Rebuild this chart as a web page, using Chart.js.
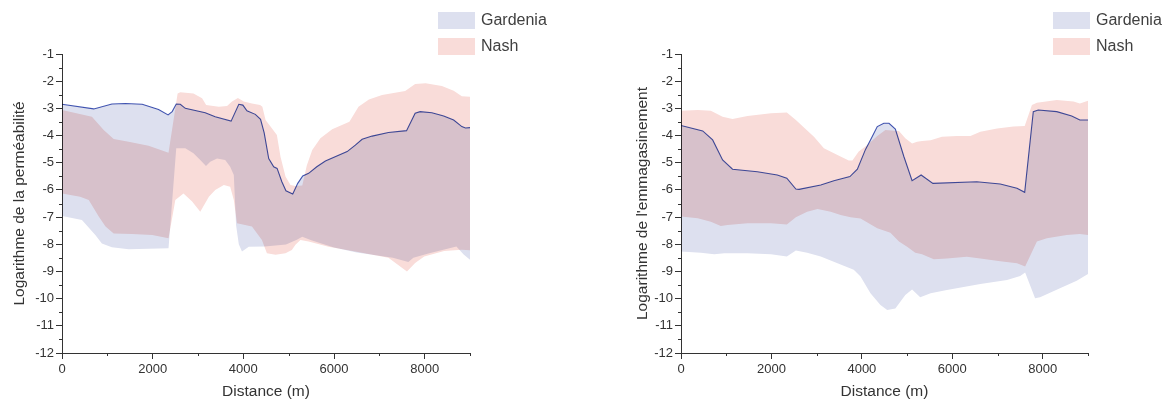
<!DOCTYPE html>
<html>
<head>
<meta charset="utf-8">
<script src="https://cdn.jsdelivr.net/npm/chart.js@4/dist/chart.umd.min.js"></script>
<style>
  body { margin: 0; background: #fff; }
  .panneau { display: inline-block; width: 585px; height: 405px; vertical-align: top; }
</style>
</head>
<body>
<div class="panneau"><canvas id="grafica_perm" width="585" height="405"></canvas></div><div class="panneau"><canvas id="grafica_emma" width="585" height="405"></canvas></div>
<script>
// --- perméabilité (gauche) ---
var permGardeniaHautX = [0, 700, 1100, 1400, 1770, 2130, 2340, 2430, 2520, 2610, 2720, 3160, 3380, 3730, 3900, 3990, 4080, 4265, 4380, 4460, 4560, 4670, 4745, 4850, 4940, 5090, 5200, 5310, 5440, 5620, 5810, 6290, 6470, 6620, 6840, 7200, 7600, 7790, 7900, 8160, 8420, 8640, 8820, 8900, 9000];
var permGardeniaHautY = [-2.85, -3.02, -2.84, -2.82, -2.85, -3.04, -3.24, -3.12, -2.84, -2.85, -3.0, -3.16, -3.31, -3.47, -2.85, -2.88, -3.09, -3.22, -3.4, -3.9, -4.85, -5.15, -5.21, -5.7, -6.03, -6.15, -5.76, -5.49, -5.39, -5.15, -4.94, -4.59, -4.35, -4.14, -4.02, -3.89, -3.82, -3.18, -3.12, -3.16, -3.28, -3.43, -3.67, -3.72, -3.71];
var permGardeniaBasX = [0, 440, 735, 880, 1100, 1470, 2350, 2520, 2720, 2900, 3050, 3176, 3270, 3420, 3600, 3710, 3790, 3840, 3900, 3970, 4120, 4470, 4940, 5180, 5300, 5500, 6000, 6500, 7300, 7640, 7750, 8100, 8700, 8860, 9000];
var permGardeniaBasY = [-6.96, -7.11, -7.66, -7.97, -8.11, -8.18, -8.15, -4.47, -4.47, -4.65, -4.9, -5.12, -4.96, -4.84, -4.9, -5.15, -5.45, -7.3, -8.0, -8.27, -8.09, -8.08, -8.01, -7.83, -7.72, -7.85, -8.12, -8.3, -8.5, -8.65, -8.5, -8.33, -8.08, -8.38, -8.57];
var permNashHautX = [0, 660, 920, 1140, 1470, 1910, 2350, 2550, 2610, 2900, 3090, 3180, 3460, 3640, 3750, 3880, 4010, 4190, 4370, 4420, 4490, 4600, 4740, 4820, 4930, 5040, 5150, 5300, 5400, 5520, 5700, 5960, 6340, 6540, 6770, 7060, 7570, 7790, 8020, 8380, 8640, 8820, 9000];
var permNashHautY = [-3.06, -3.31, -3.8, -4.13, -4.23, -4.38, -4.63, -2.45, -2.41, -2.45, -2.63, -2.88, -2.94, -2.91, -2.75, -2.62, -2.75, -2.82, -2.88, -2.94, -3.43, -3.67, -3.98, -4.78, -5.51, -5.82, -5.86, -5.84, -5.1, -4.53, -4.1, -3.77, -3.49, -2.94, -2.67, -2.51, -2.36, -2.1, -2.08, -2.18, -2.35, -2.55, -2.57];
var permNashBasX = [0, 400, 590, 810, 960, 1140, 1540, 1990, 2350, 2500, 2680, 2870, 3050, 3240, 3380, 3570, 3710, 3790, 3860, 4190, 4410, 4520, 4710, 4930, 5070, 5150, 5260, 5440, 5880, 6470, 7200, 7610, 7790, 7990, 8430, 8820, 9000];
var permNashBasY = [-6.13, -6.25, -6.37, -6.98, -7.35, -7.6, -7.62, -7.66, -7.78, -6.37, -6.13, -6.43, -6.8, -6.25, -6.0, -5.82, -5.88, -6.37, -7.23, -7.35, -7.84, -8.33, -8.39, -8.33, -8.21, -8.02, -7.84, -7.9, -8.09, -8.27, -8.5, -9.0, -8.69, -8.45, -8.25, -8.2, -8.22];

// --- emmagasinement (droite) ---
var emmaGardeniaHautX = [0, 480, 700, 920, 1140, 1690, 2130, 2340, 2540, 2610, 3090, 3380, 3735, 3900, 4080, 4190, 4340, 4485, 4600, 4740, 4930, 5110, 5310, 5570, 6540, 7060, 7430, 7600, 7790, 7900, 8310, 8640, 8820, 9000];
var emmaGardeniaHautY = [-3.63, -3.83, -4.16, -4.9, -5.24, -5.33, -5.45, -5.57, -5.97, -5.98, -5.82, -5.66, -5.51, -5.24, -4.51, -4.16, -3.67, -3.55, -3.55, -3.76, -4.78, -5.66, -5.45, -5.76, -5.7, -5.78, -5.94, -6.09, -3.12, -3.06, -3.12, -3.28, -3.43, -3.43];
var emmaGardeniaBasX = [0, 440, 735, 960, 1470, 1990, 2340, 2540, 2790, 3090, 3460, 3820, 3970, 4190, 4410, 4560, 4740, 4960, 5110, 5290, 5520, 5880, 6620, 7210, 7500, 7610, 7830, 7940, 8380, 8750, 9000];
var emmaGardeniaBasY = [-8.27, -8.31, -8.37, -8.33, -8.33, -8.37, -8.45, -8.23, -8.31, -8.45, -8.7, -8.94, -9.19, -9.8, -10.23, -10.42, -10.36, -9.87, -9.66, -9.95, -9.8, -9.68, -9.46, -9.31, -9.17, -9.04, -9.99, -9.95, -9.62, -9.34, -9.09];
var emmaNashHautX = [0, 370, 660, 920, 1140, 1470, 1990, 2340, 2540, 2940, 3160, 3460, 3710, 3790, 3930, 4120, 4340, 4520, 4710, 4820, 4960, 5110, 5220, 5330, 5520, 5770, 6100, 6400, 6620, 6990, 7350, 7600, 7760, 7870, 8310, 8680, 8820, 9000];
var emmaNashHautY = [-3.09, -3.06, -3.09, -3.31, -3.39, -3.28, -3.18, -3.15, -3.43, -4.04, -4.47, -4.72, -4.92, -4.92, -4.59, -4.35, -4.02, -3.8, -3.82, -3.83, -4.1, -4.29, -4.23, -4.2, -4.17, -4.04, -4.02, -4.02, -3.86, -3.74, -3.67, -3.65, -2.88, -2.79, -2.69, -2.75, -2.82, -2.72];
var emmaNashBasX = [0, 370, 660, 880, 1030, 1470, 1990, 2340, 2540, 2790, 3020, 3310, 3530, 3750, 3970, 4340, 4630, 4820, 5000, 5180, 5330, 5590, 5880, 6320, 6620, 7060, 7430, 7610, 7870, 8090, 8530, 8820, 9000];
var emmaNashBasY = [-6.98, -7.04, -7.17, -7.33, -7.29, -7.23, -7.23, -7.27, -7.01, -6.8, -6.7, -6.8, -6.92, -7.01, -7.05, -7.41, -7.58, -7.9, -8.09, -8.31, -8.37, -8.55, -8.52, -8.46, -8.52, -8.62, -8.7, -8.82, -7.9, -7.78, -7.66, -7.62, -7.66];

var ticksX = [0, 2000, 4000, 6000, 8000];
var ticksY = [-12, -11, -10, -9, -8, -7, -6, -5, -4, -3, -2, -1];
var series = ["Gardenia", "Nash"];

var couleurGardenia = "#dde0ef";
var couleurNash = "#f9dcd9";
var couleurLigne = "#4357b5";
var couleurAxe = "#333333";

Chart.defaults.font.family = "'Liberation Sans', Arial, sans-serif";
Chart.defaults.color = couleurAxe;

function points(xs, ys) {
    var res = [];
    for (var i = 0; i < xs.length; i++) {
        res.push({x: xs[i], y: ys[i]});
    }
    return res;
}

// bandes superposées comme dans Origin (multiplication des couleurs)
var pluginMultiplier = {
    id: "multiplier",
    beforeDatasetsDraw: function (chart) {
        chart.ctx.save();
        chart.ctx.globalCompositeOperation = "multiply";
    },
    afterDatasetsDraw: function (chart) {
        chart.ctx.restore();
    }
};

// petites graduations + légende en haut à droite
var pluginDecor = {
    id: "decor",
    afterDraw: function (chart, args, opts) {
        var ctx = chart.ctx;
        var sx = chart.scales.x, sy = chart.scales.y;
        ctx.save();
        ctx.strokeStyle = couleurAxe;
        ctx.lineWidth = 1;
        ctx.beginPath();
        for (var v = -11.5; v < -1; v += 1) {
            var py = Math.round(sy.getPixelForValue(v)) + 0.5;
            ctx.moveTo(sx.left - 3, py);
            ctx.lineTo(sx.left, py);
        }
        for (var w = 1000; w <= 9000; w += 2000) {
            var px = Math.round(sx.getPixelForValue(w)) + 0.5;
            ctx.moveTo(px, sy.bottom);
            ctx.lineTo(px, sy.bottom + 3);
        }
        ctx.stroke();

        var couleurs = [couleurGardenia, couleurNash];
        ctx.font = "16px 'Liberation Sans', Arial, sans-serif";
        ctx.textBaseline = "middle";
        for (var i = 0; i < series.length; i++) {
            var y0 = opts.y + i * 26;
            ctx.fillStyle = couleurs[i];
            ctx.fillRect(opts.x, y0, 37, 17);
            ctx.fillStyle = "#404040";
            ctx.fillText(series[i], opts.x + 43, y0 + 9);
        }
        ctx.restore();
    }
};

function dataset(label, donnees, fond, bord, remplir) {
    return {
        label: label,
        data: donnees,
        backgroundColor: fond,
        borderColor: bord,
        borderWidth: bord === "transparent" ? 0 : 1.1,
        fill: remplir,
        pointRadius: 0,
        tension: 0
    };
}

function grafica(id, titreY, g, n, pad, largeurY, legende) {
    var datos = {
        type: "line",
        data: {
            datasets: [
                dataset("Gardenia bas", points(g[2], g[3]), "transparent", "transparent", false),
                dataset("Gardenia", points(g[0], g[1]), couleurGardenia, couleurLigne, "-1"),
                dataset("Nash bas", points(n[2], n[3]), "transparent", "transparent", false),
                dataset("Nash", points(n[0], n[1]), couleurNash, "transparent", "-1")
            ]
        },
        options: {
            responsive: false,
            animation: false,
            events: [],
            layout: {padding: {left: pad.left, right: pad.right, top: 54, bottom: 0}},
            plugins: {
                legend: {display: false},
                tooltip: {enabled: false},
                decor: legende
            },
            scales: {
                x: {
                    type: "linear",
                    min: 0,
                    max: 9000,
                    afterBuildTicks: function (s) {
                        s.ticks = ticksX.map(function (v) { return {value: v}; });
                    },
                    afterFit: function (s) { s.height = 52; },
                    ticks: {
                        font: {size: 13},
                        padding: 3,
                        maxRotation: 0,
                        callback: function (v) { return String(v); }
                    },
                    grid: {drawOnChartArea: false, tickLength: 6, color: couleurAxe},
                    border: {display: true, color: couleurAxe, width: 1},
                    title: {display: true, text: "Distance (m)", font: {size: 15.5}, color: couleurAxe}
                },
                y: {
                    min: -12,
                    max: -1,
                    afterBuildTicks: function (s) {
                        s.ticks = ticksY.map(function (v) { return {value: v}; });
                    },
                    afterFit: function (s) { s.width = largeurY; },
                    ticks: {
                        font: {size: 13},
                        padding: 2,
                        callback: function (v) { return String(v); }
                    },
                    grid: {drawOnChartArea: false, tickLength: 6, color: couleurAxe},
                    border: {display: true, color: couleurAxe, width: 1},
                    title: {display: true, text: titreY, font: {size: 15.5}, color: couleurAxe}
                }
            }
        },
        plugins: [pluginMultiplier, pluginDecor]
    };
    return new Chart(document.getElementById(id), datos);
}

grafica("grafica_perm", "Logarithme de la perméabilité",
    [permGardeniaHautX, permGardeniaHautY, permGardeniaBasX, permGardeniaBasY],
    [permNashHautX, permNashHautY, permNashBasX, permNashBasY],
    {left: 6, right: 115}, 56, {x: 438, y: 12});

grafica("grafica_emma", "Logarithme de l'emmagasinement",
    [emmaGardeniaHautX, emmaGardeniaHautY, emmaGardeniaBasX, emmaGardeniaBasY],
    [emmaNashHautX, emmaNashHautY, emmaNashBasX, emmaNashBasY],
    {left: 44, right: 82}, 52, {x: 468, y: 12});
</script>
</body>
</html>
